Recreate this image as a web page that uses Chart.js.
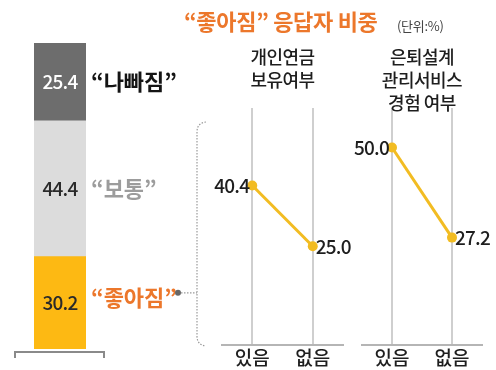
<!DOCTYPE html>
<html>
<head>
<meta charset="utf-8">
<script src="https://cdn.jsdelivr.net/npm/chart.js@4"></script>
<style>
  body { margin: 0; background: #fff; }
  #wrap { position: relative; width: 496px; height: 370px; overflow: hidden; }
  #wrap canvas { position: absolute; left: 0; top: 0; }
</style>
</head>
<body>
<div id="wrap">
  <canvas id="overall" width="496" height="370"></canvas>
  <canvas id="pension" width="496" height="370"></canvas>
  <canvas id="retire" width="496" height="370"></canvas>
</div>
<script>
// overall answer split (bottom to top)
const overallLabels = ['“좋아짐”', '“보통”', '“나빠짐”'];
const overallValues = [30.2, 44.4, 25.4];

// share of "좋아짐" by group
const answerLabels = ['있음', '없음'];
const pensionValues = [40.4, 25.0];
const retireValues = [50.0, 27.2];
const pensionTitle = ['개인연금', '보유여부'];
const retireTitle = ['은퇴설계', '관리서비스', '경험 여부'];

const mainTitle = '“좋아짐” 응답자 비중';
const unitText = '(단위:%)';

const FONT = '"Noto Sans CJK KR", "Noto Sans", sans-serif';
const barColors = ['#FDB913', '#DCDCDC', '#6D6D6D'];
const valueColors = ['#2a2a2a', '#2a2a2a', '#ffffff'];
const nameColors = ['#EC772B', '#9C9C9C', '#141414'];
const lineColor = '#F2BC22';

// labels, brackets and the headline around the stacked bar
const overallDecor = {
    id: 'overallDecor',
    afterDatasetsDraw(chart) {
        const ctx = chart.ctx;
        ctx.save();
        ctx.textBaseline = 'middle';
        chart.data.datasets.forEach((ds, i) => {
            const bar = chart.getDatasetMeta(i).data[0];
            const midY = (bar.y + bar.base) / 2;
            ctx.font = '500 19px ' + FONT;
            ctx.letterSpacing = '-0.8px';
            ctx.fillStyle = valueColors[i];
            ctx.textAlign = 'center';
            ctx.fillText(ds.data[0].toFixed(1), bar.x, midY);
            ctx.font = 'bold 22px ' + FONT;
            ctx.letterSpacing = '0px';
            ctx.fillStyle = nameColors[i];
            ctx.textAlign = 'left';
            ctx.fillText(ds.label, bar.x + bar.width / 2 + 5, midY - (i === 0 ? 5 : 0));
        });

        // bracket under the bar
        ctx.strokeStyle = '#8a8a8a';
        ctx.lineWidth = 2;
        ctx.beginPath();
        ctx.moveTo(15, 358);
        ctx.lineTo(15, 352);
        ctx.lineTo(104, 352);
        ctx.lineTo(104, 358);
        ctx.stroke();

        // dotted link from "좋아짐" to the right-hand panels
        const good = chart.getDatasetMeta(0).data[0];
        const linkY = (good.y + good.base) / 2 - 10;
        ctx.fillStyle = '#666';
        ctx.beginPath();
        ctx.arc(178, linkY, 3, 0, Math.PI * 2);
        ctx.fill();
        ctx.strokeStyle = '#9a9a9a';
        ctx.lineWidth = 1.2;
        ctx.setLineDash([1.5, 1.5]);
        ctx.beginPath();
        ctx.moveTo(181, linkY);
        ctx.lineTo(197, linkY);
        ctx.stroke();
        ctx.beginPath();
        ctx.moveTo(206, 122);
        ctx.quadraticCurveTo(197, 123, 197, 132);
        ctx.lineTo(197, 336);
        ctx.quadraticCurveTo(197, 345, 206, 346);
        ctx.stroke();
        ctx.setLineDash([]);

        // headline
        ctx.letterSpacing = '-0.3px';
        ctx.font = 'bold 22px ' + FONT;
        ctx.fillStyle = '#EC772B';
        ctx.textAlign = 'left';
        ctx.fillText(mainTitle, 184, 22);
        ctx.font = '13px ' + FONT;
        ctx.letterSpacing = '-0.3px';
        ctx.fillStyle = '#444';
        ctx.fillText(unitText, 397, 26);
        ctx.restore();
    }
};

new Chart(document.getElementById('overall'), {
    type: 'bar',
    data: {
        labels: ['전체'],
        datasets: overallValues.map((v, i) => ({
            label: overallLabels[i],
            data: [v],
            backgroundColor: barColors[i],
            barPercentage: 1,
            categoryPercentage: 1
        }))
    },
    options: {
        responsive: false,
        animation: false,
        layout: { padding: { left: 34, right: 410, top: 43, bottom: 21 } },
        plugins: { legend: { display: false }, tooltip: { enabled: false } },
        scales: {
            x: { stacked: true, display: false },
            y: { stacked: true, display: false, min: 0, max: 100 }
        }
    },
    plugins: [overallDecor]
});

// one small slope panel: title on top, value next to each point
function makePanel(canvasId, values, titleLines, left, right) {
    const panelDecor = {
        id: 'panelDecor',
        afterDatasetsDraw(chart) {
            const ctx = chart.ctx;
            const pts = chart.getDatasetMeta(0).data;
            ctx.save();
            ctx.font = '500 19px ' + FONT;
            ctx.letterSpacing = '-0.8px';
            ctx.fillStyle = '#1e1e1e';
            ctx.textBaseline = 'middle';
            ctx.textAlign = 'right';
            ctx.fillText(values[0].toFixed(1), pts[0].x - 3, pts[0].y);
            ctx.textAlign = 'left';
            ctx.fillText(values[1].toFixed(1), pts[1].x + 3, pts[1].y);

            const cx = (chart.chartArea.left + chart.chartArea.right) / 2;
            ctx.font = '500 18px ' + FONT;
            ctx.letterSpacing = '-0.5px';
            ctx.textAlign = 'center';
            titleLines.forEach((t, k) => ctx.fillText(t, cx, 57 + k * 23));
            ctx.restore();
        }
    };

    new Chart(document.getElementById(canvasId), {
        type: 'line',
        data: {
            labels: answerLabels,
            datasets: [{
                data: values,
                borderColor: lineColor,
                backgroundColor: lineColor,
                borderWidth: 3,
                pointRadius: 5,
                pointBorderWidth: 0
            }]
        },
        options: {
            responsive: false,
            animation: false,
            layout: { padding: { left: left, right: 496 - right, top: 108, bottom: 0 } },
            plugins: { legend: { display: false }, tooltip: { enabled: false } },
            scales: {
                x: {
                    offset: true,
                    grid: { color: '#cfcfcf', lineWidth: 2, drawTicks: false },
                    border: { color: '#b5b5b5', width: 2 },
                    ticks: { color: '#1e1e1e', padding: 2, font: { family: FONT, size: 19, weight: '500', lineHeight: 1.1 } }
                },
                y: { display: false, min: 0, max: 60 }
            }
        },
        plugins: [panelDecor]
    });
}

makePanel('pension', pensionValues, pensionTitle, 222, 343);
makePanel('retire', retireValues, retireTitle, 362, 482);
</script>
</body>
</html>
